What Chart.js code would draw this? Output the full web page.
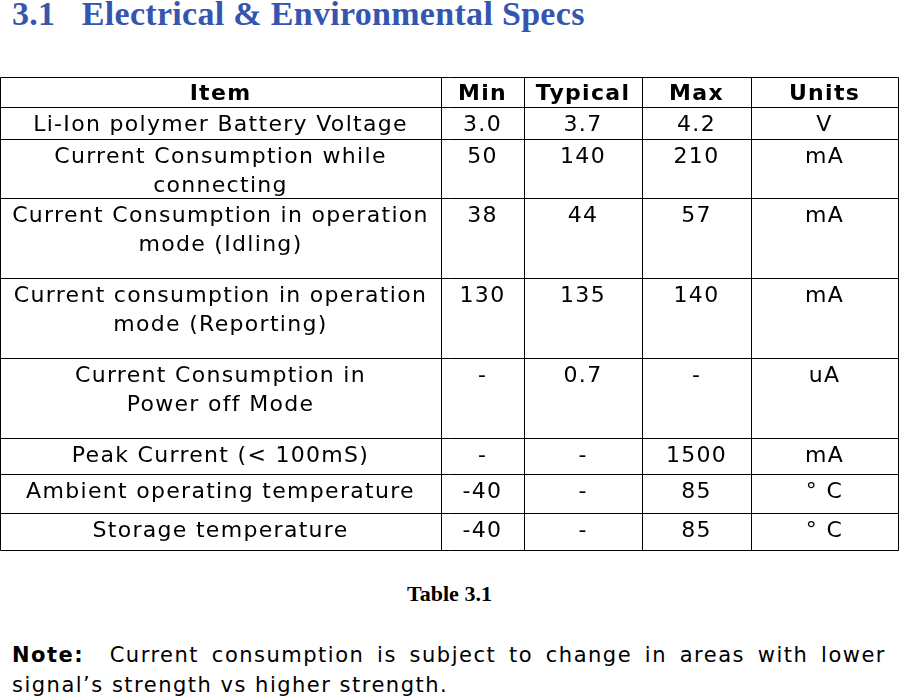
<!DOCTYPE html>
<html><head><meta charset="utf-8">
<script src="https://cdn.jsdelivr.net/npm/chart.js@4"></script>
<style>
body{margin:0;width:899px;height:697px;position:relative;background:#fff;overflow:hidden}
#title{position:absolute;left:12px;top:-5px;font:bold 34px "Liberation Serif",serif;color:#3556b0;white-space:pre;letter-spacing:0.3px}
#wrap{position:absolute;left:0;top:70px;width:899px;height:490px}
#cap{position:absolute;left:0;width:899px;top:581px;text-align:center;font:bold 22px "Liberation Serif",serif}
#note{position:absolute;left:12px;width:874px;top:640px;font:21px "DejaVu Sans",sans-serif;text-align:justify;text-align-last:left;line-height:30px;letter-spacing:1.5px}
</style></head><body>
<div id="title">3.1   Electrical &amp; Environmental Specs</div>
<div id="wrap"><canvas id="c"></canvas></div>
<div id="cap">Table 3.1</div>
<div id="note"><b>Note:</b>&nbsp; Current consumption is subject to change in areas with lower signal’s strength vs higher strength.</div>
<script>
const headers=["Item","Min","Typical","Max","Units"];
const items=[["Li-Ion polymer Battery Voltage"],["Current Consumption while","connecting"],["Current Consumption in operation","mode (Idling)"],["Current consumption in operation","mode (Reporting)"],["Current Consumption in","Power off Mode"],["Peak Current (< 100mS)"],["Ambient operating temperature"],["Storage temperature"]];
const minVals=["3.0","50","38","130","-","-","-40","-40"];
const typVals=["3.7","140","44","135","0.7","-","-","-"];
const maxVals=["4.2","210","57","140","-","1500","85","85"];
const units=["V","mA","mA","mA","uA","mA","° C","° C"];
const colX=[0,441,524,642,751,898];
const rowY=[7,37,69,128,208,288,368,404,443,480];
const tablePlugin={id:'table',afterDraw(chart){
 const ctx=chart.ctx;ctx.save();
 ctx.strokeStyle='#000';ctx.lineWidth=1;
 rowY.forEach(y=>{ctx.beginPath();ctx.moveTo(colX[0]+0.5,y+0.5);ctx.lineTo(colX[5]+0.5,y+0.5);ctx.stroke();});
 colX.forEach(x=>{ctx.beginPath();ctx.moveTo(x+0.5,rowY[0]+0.5);ctx.lineTo(x+0.5,rowY[9]+0.5);ctx.stroke();});
 ctx.fillStyle='#000';ctx.textAlign='center';ctx.textBaseline='middle';
 const cx=i=>(colX[i]+colX[i+1])/2;
 ctx.letterSpacing='1.3px';
 ctx.font='bold 22px "DejaVu Sans", sans-serif';
 headers.forEach((h,i)=>ctx.fillText(h,cx(i),rowY[0]+17));
 ctx.font='22px "DejaVu Sans", sans-serif';
 for(let r=0;r<items.length;r++){
  const top=rowY[r+1];
  items[r].forEach((t,k)=>ctx.fillText(t,cx(0),top+18+k*29));
  [minVals,typVals,maxVals,units].forEach((arr,c)=>ctx.fillText(arr[r],cx(c+1),top+18));
 }
 ctx.restore();}};
new Chart(document.getElementById('c'),{type:'bar',data:{labels:[],datasets:[]},
 options:{responsive:true,maintainAspectRatio:false,animation:false,events:[],
 plugins:{legend:{display:false},tooltip:{enabled:false}},
 scales:{x:{display:false},y:{display:false}},layout:{padding:0}},plugins:[tablePlugin]});
</script></body></html>
